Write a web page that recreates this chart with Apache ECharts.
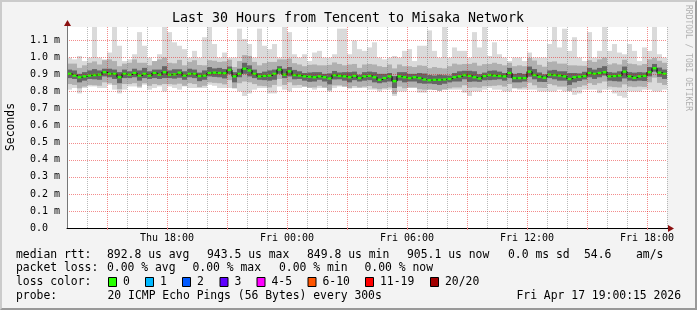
<!DOCTYPE html>
<html><head><meta charset="utf-8">
<script src="https://cdn.jsdelivr.net/npm/echarts@6/dist/echarts.min.js"></script>
<style>
html,body{margin:0;padding:0;background:#f3f3f3;}
#frame{position:absolute;left:0;top:0;width:697px;height:310px;box-sizing:border-box;background:#f3f3f3;border-style:solid;border-width:2px;border-color:#cbcbcb #999 #999 #cbcbcb;}
#chart{position:absolute;left:0;top:0;width:697px;height:310px;}
</style></head><body>
<div id="frame"></div><div id="chart"></div>
<script>
const MONO = "'DejaVu Sans Mono', monospace";
const chartTitle = 'Last 30 Hours from Tencent to Misaka Network';
const startHour = 13;      // Thu 13:00
const spanHours = 30;
const stepHours = 0.25;    // one sample column per 15 minutes
const tickLabels = ['Thu 18:00', 'Fri 00:00', 'Fri 06:00', 'Fri 12:00', 'Fri 18:00'];

// median rtt in microseconds
const median = [
905,895,885,890,895,898,900,915,905,905,885,905,900,910,895,905,895,910,900,915,900,902,912,895,905,905,892,895,910,912,
910,908,928,890,905,935,925,905,890,893,895,905,930,900,920,898,895,890,888,885,890,885,878,897,893,890,885,893,880,890,
893,885,870,880,890,862,890,885,880,885,880,872,868,870,870,872,875,885,890,898,893,885,878,892,898,895,893,890,910,880,
880,880,918,898,888,882,900,898,895,890,875,885,888,892,910,905,910,915,890,892,895,918,890,882,890,893,915,938,912,905];
// highest / lowest ping per column
const smokeMax = [
1000,990,1010,980,1000,1180,1000,990,1030,1180,1070,980,990,1020,1150,1070,1000,980,1020,1180,1150,1090,1070,1050,1000,1040,1000,1120,1180,1080,
1000,1030,1000,1000,1170,1110,1080,1000,1170,1070,1050,1080,1000,1180,1150,1020,1000,1020,980,1030,1040,1000,1000,1020,1170,1170,1020,1100,1050,1040,
1060,1090,1000,990,1000,1010,1000,1040,1050,980,1070,1070,1160,1040,1000,1180,1000,1060,1040,1040,1000,1150,1060,1180,1010,1090,1020,1000,980,1000,
1000,980,1030,1000,1000,1000,1080,1180,1060,1170,1040,1120,1000,980,1150,1000,1040,1180,1040,1080,1030,1020,1080,1040,980,1060,1040,1180,1020,1000];
const smokeMin = [
812,822,790,822,831,831,822,822,841,812,790,812,831,831,822,841,812,822,831,802,831,822,812,831,822,822,822,822,841,835,
822,822,822,822,802,775,790,812,822,822,790,790,831,812,802,822,822,831,831,812,822,822,802,822,831,831,831,822,822,822,
812,812,802,812,812,775,802,802,822,822,795,795,812,812,822,822,812,812,812,795,775,802,802,812,822,812,812,802,802,822,
812,812,812,812,802,802,802,802,812,802,802,782,790,812,812,812,792,812,812,790,775,765,802,802,802,812,812,802,802,812];
// spread of the middle smoke band above / below the median
const upMid = [
60,70,55,65,75,80,60,70,85,75,65,60,70,80,75,65,60,70,90,85,70,65,75,60,70,80,65,60,75,70,
65,70,60,55,75,80,85,70,65,75,80,70,60,90,75,70,65,60,70,75,65,70,80,75,70,65,75,70,60,70,
70,75,80,65,70,75,70,65,70,60,75,80,70,75,70,65,75,80,70,65,70,85,75,70,65,75,70,65,60,70,
75,70,80,85,70,65,75,80,70,75,80,70,65,60,75,70,80,85,70,75,65,70,75,80,65,70,75,60,70,65];
const dnMid = [
60,55,65,60,55,60,65,60,55,65,70,60,55,60,65,55,60,65,60,70,55,60,65,60,55,60,65,60,55,60,
60,65,60,70,55,75,70,60,55,60,70,65,55,60,65,60,55,60,65,60,55,60,70,60,55,60,65,60,55,60,
60,65,55,60,65,75,60,65,55,60,65,60,55,60,65,60,55,60,65,60,70,60,55,60,65,60,55,60,65,60,
60,55,65,60,65,60,55,60,65,60,70,65,60,55,60,65,60,55,60,65,70,75,60,55,60,65,60,55,60,65];
// spread of the dark core band above / below the median
const upCore = [
25,30,20,25,30,35,25,20,30,25,30,25,20,25,30,35,25,20,30,35,25,30,20,25,30,25,20,30,35,25,
30,25,20,25,30,35,30,25,20,25,30,25,20,35,25,30,25,20,25,30,25,20,30,25,20,25,30,25,20,25,
25,30,35,25,20,30,25,30,25,20,30,35,30,25,30,25,20,25,30,25,30,35,25,20,25,30,25,20,30,25,
30,25,30,35,25,20,25,30,25,30,35,25,20,25,30,25,30,35,25,20,25,30,25,30,25,20,30,25,30,25];
const dnCore = [
25,20,30,25,20,25,30,25,20,30,35,25,20,25,30,25,20,30,25,35,20,25,30,25,20,25,30,25,20,25,
25,30,25,35,20,30,35,25,20,25,30,35,25,20,30,25,20,25,30,25,20,25,35,25,20,25,30,25,20,25,
25,30,20,25,30,40,25,30,20,25,30,25,20,25,30,25,20,25,30,25,35,25,20,25,30,25,20,25,30,25,
25,20,30,25,30,25,20,25,30,25,35,30,25,20,25,30,25,20,25,30,35,40,25,20,25,30,25,20,25,30];

const statsRtt = [['median rtt:',16],['892.8 us avg',107],['943.5 us max',207],['849.8 us min',307],['905.1 us now',407],['0.0 ms sd',508],['54.6',584],['am/s',636]];
const statsLoss = [['packet loss:',16],['0.00 % avg',107],['0.00 % max',192.5],['0.00 % min',279],['0.00 % now',364.5]];
const lossColors = [['0','#26ff00',108],['1','#00b8ff',145],['2','#0059ff',182],['3','#5e00ff',219.5],['4-5','#ff00ff',256.5],['6-10','#ff5500',307.5],['11-19','#ff0000',365],['20/20','#a10000',430]];
const probeText = '20 ICMP Echo Pings (56 Bytes) every 300s';
const stampText = 'Fri Apr 17 19:00:15 2026';

const hourCats = [];
for (let i = 0; i <= spanHours; i++) {
  const h = startHour + i;
  hourCats.push((h < 24 ? 'Thu ' : 'Fri ') + String(h % 24).padStart(2, '0') + ':00');
}
const isMajor = i => (startHour + i) % 3 === 0;
const times = median.map((_, i) => (i + 0.5) * stepHours);

function band(hi, lo, color) {
  return {
    type: 'custom', xAxisIndex: 0, yAxisIndex: 0, clip: true, silent: true, z: 2,
    data: times.map((t, i) => [t, hi[i], lo[i]]),
    renderItem: (params, api) => {
      const t = api.value(0);
      const a = api.coord([t - stepHours / 2, api.value(1)]);
      const b = api.coord([t + stepHours / 2, api.value(2)]);
      return { type: 'rect', shape: { x: a[0], y: a[1], width: b[0] - a[0], height: b[1] - a[1] }, style: { fill: color } };
    }
  };
}

const chart = echarts.init(document.getElementById('chart'), null, { renderer: 'canvas' });
const gridPink = { color: 'rgba(228,0,0,0.45)', type: [1, 1], width: 1 };
const gridGray = { color: 'rgba(130,130,130,0.55)', type: [1, 1], width: 1 };
chart.setOption({
  animation: false,
  backgroundColor: 'transparent',
  grid: { left: 67, right: 30, top: 27, bottom: 82, show: true, backgroundColor: '#ffffff', borderWidth: 0 },
  xAxis: [
    { type: 'value', min: 0, max: spanHours, show: false },
    { type: 'category', data: hourCats, boundaryGap: false, position: 'bottom', z: 5,
      axisLine: { show: false }, axisTick: { show: false }, axisLabel: { show: false },
      splitLine: { show: true, interval: (i) => !isMajor(i), lineStyle: gridGray } },
    { type: 'category', data: hourCats, boundaryGap: false, position: 'bottom', z: 6,
      axisLine: { show: true, lineStyle: { color: '#000', width: 1 } },
      axisTick: { show: true, interval: (i) => isMajor(i), length: 2, lineStyle: { color: '#ee8888' } },
      axisLabel: { show: true, interval: (i, v) => tickLabels.includes(v), margin: 5, fontSize: 10, fontFamily: MONO, color: '#000' },
      splitLine: { show: true, interval: (i) => isMajor(i), lineStyle: gridPink } }
  ],
  yAxis: {
    type: 'value', min: 0, max: 1180, interval: 100, z: 5,
    axisLine: { show: true, lineStyle: { color: '#777' } },
    axisTick: { show: false },
    axisLabel: { margin: 37, align: 'left', fontSize: 10, fontFamily: MONO, color: '#000',
      formatter: v => (v > 1100 ? '' : (v === 0 ? '0.0' : (v / 1000).toFixed(1) + ' m')) },
    splitLine: { show: true, showMinLine: false, showMaxLine: false, lineStyle: gridPink }
  },
  series: [
    band(smokeMax, smokeMin, '#dadada'),
    band(median.map((m, i) => m + upMid[i]), median.map((m, i) => m - dnMid[i]), '#b0b0b0'),
    band(median.map((m, i) => m + upCore[i]), median.map((m, i) => m - dnCore[i]), '#666666'),
    { type: 'line', xAxisIndex: 0, yAxisIndex: 0, step: 'middle', symbol: 'none', silent: true, z: 3,
      data: times.map((t, i) => [t, median[i]]), lineStyle: { color: '#000', width: 1 } },
    { type: 'custom', xAxisIndex: 0, yAxisIndex: 0, clip: true, silent: true, z: 4,
      data: times.map((t, i) => [t, median[i]]),
      renderItem: (params, api) => {
        const t = api.value(0);
        const a = api.coord([t - stepHours * 0.4, api.value(1)]);
        const b = api.coord([t + stepHours * 0.4, api.value(1)]);
        return { type: 'rect', shape: { x: a[0], y: a[1] - 1.2, width: b[0] - a[0], height: 2.4 }, style: { fill: '#26ff00' } };
      } }
  ]
});

const o = chart.convertToPixel({ xAxisIndex: 0, yAxisIndex: 0 }, [0, 0]);
const e = chart.convertToPixel({ xAxisIndex: 0, yAxisIndex: 0 }, [spanHours, 1180]);
const txt = (text, x, y, size, extra) => Object.assign({ type: 'text', x, y, silent: true,
  style: Object.assign({ text, fill: '#000', fontSize: size, fontFamily: MONO, align: 'left', verticalAlign: 'middle' }, extra || {}) });
const g = [];
g.push(txt(chartTitle, 348, 19, 13.3, { align: 'center' }));
g.push(Object.assign(txt('Seconds', 11, 127, 11.4, { align: 'center' }), { rotation: Math.PI / 2 }));
g.push(Object.assign(txt('RRDTOOL / TOBI OETIKER', 688, 5, 8, { fill: '#b0b0b0' }), { rotation: -Math.PI / 2 }));
statsRtt.forEach(([s, x]) => g.push(txt(s, x, 255, 11.4)));
statsLoss.forEach(([s, x]) => g.push(txt(s, x, 268.5, 11.4)));
g.push(txt('loss color:', 16, 282, 11.4));
lossColors.forEach(([s, c, x]) => {
  g.push({ type: 'rect', silent: true, shape: { x: x + 0.5, y: 277.5, width: 8, height: 9 }, style: { fill: c, stroke: '#000', lineWidth: 1 } });
  g.push(txt(s, x + 15, 282, 11.4));
});
g.push(txt('probe:', 16, 296, 11.4));
g.push(txt(probeText, 107.5, 296, 11.4));
g.push(txt(stampText, 681, 296, 11.4, { align: 'right' }));
// axis arrows
g.push({ type: 'line', silent: true, shape: { x1: o[0] + 0.5, y1: e[1], x2: o[0] + 0.5, y2: e[1] - 2 }, style: { stroke: '#777', lineWidth: 1 } });
g.push({ type: 'polygon', silent: true, shape: { points: [[o[0] - 3, e[1] - 1], [o[0] + 4, e[1] - 1], [o[0] + 0.5, e[1] - 7]] }, style: { fill: '#8b1010' } });
g.push({ type: 'line', silent: true, shape: { x1: e[0], y1: o[1] + 0.5, x2: e[0] + 2, y2: o[1] + 0.5 }, style: { stroke: '#000', lineWidth: 1 } });
g.push({ type: 'polygon', silent: true, shape: { points: [[e[0] + 1, o[1] - 3], [e[0] + 1, o[1] + 4], [e[0] + 7, o[1] + 0.5]] }, style: { fill: '#8b1010' } });
chart.setOption({ graphic: g });
</script></body></html>
